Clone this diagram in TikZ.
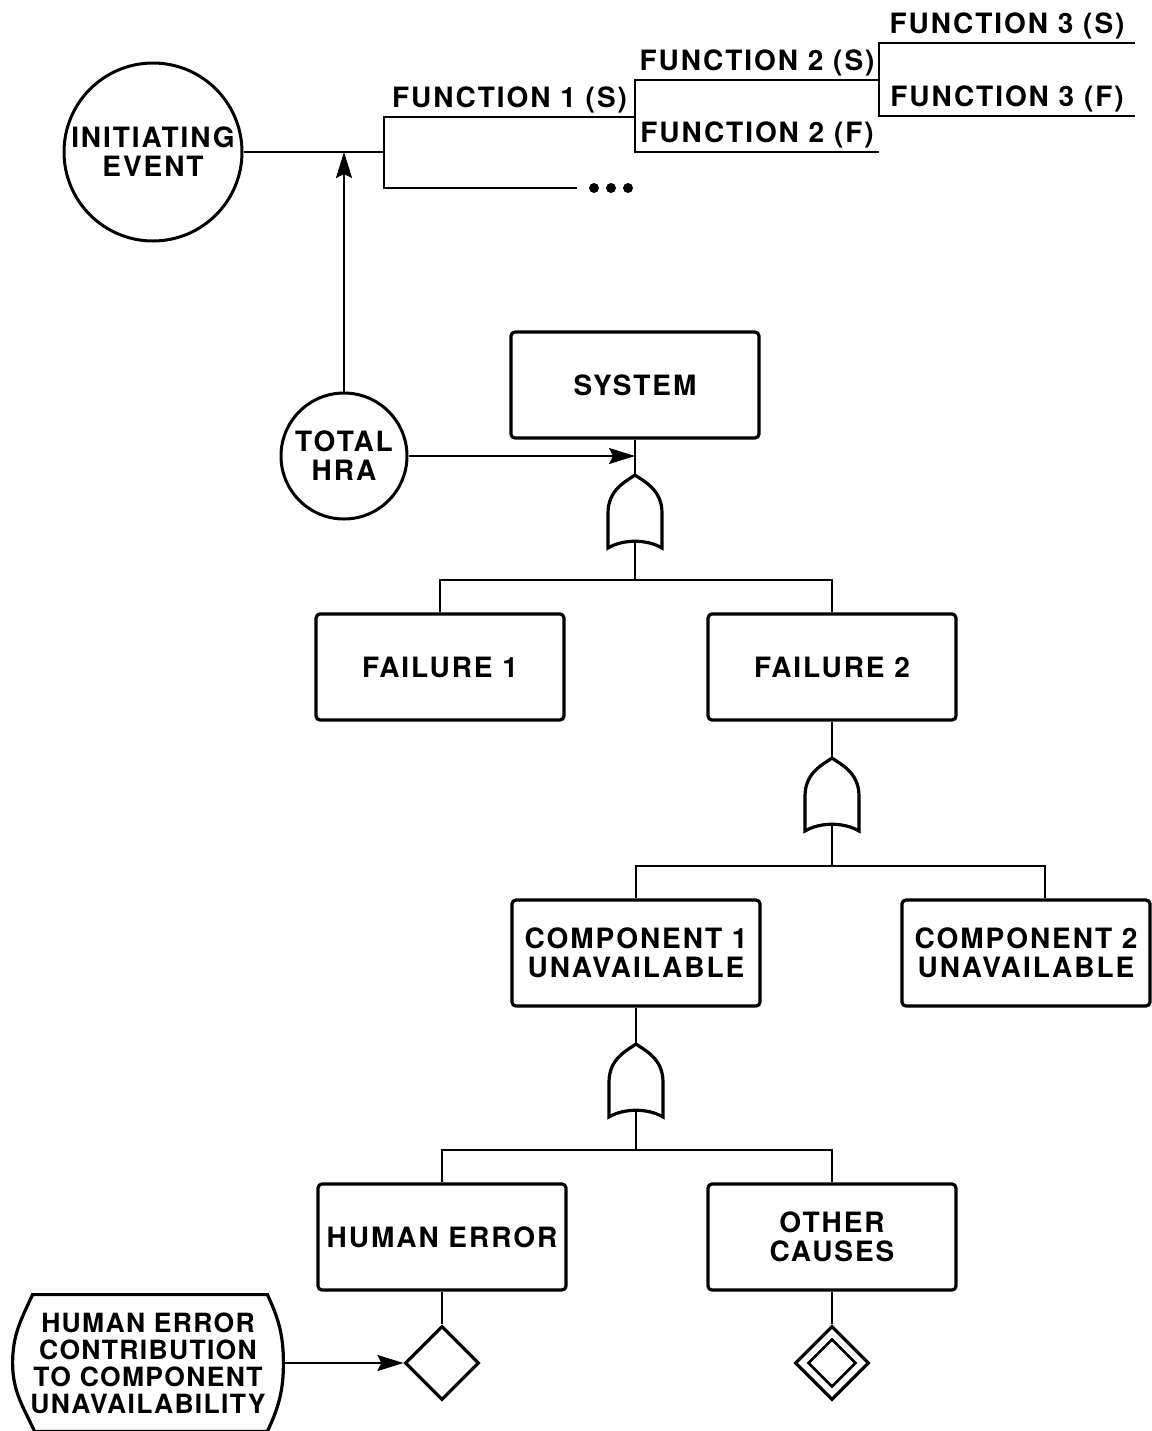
\documentclass[tikz,border=0pt]{standalone}
\usepackage{fontspec}
\setmainfont{TeX Gyre Heros}[LetterSpace=7]
\newfontfamily\tightfam{TeX Gyre Heros}[LetterSpace=5]
\usetikzlibrary{arrows.meta,positioning,calc,shapes.geometric}
\tikzset{
  >={Stealth[length=13pt,width=8pt,inset=2pt]},
  every node/.append style={font=\fontsize{14}{14.5}\selectfont\bfseries},
}
\tikzset{
  event/.style={draw, rectangle, rounded corners=2pt, line width=1.6pt, align=center,
                minimum width=124pt, minimum height=53pt, inner sep=0pt},
  wire/.style={line width=1.2pt},
  arrow/.style={->, line width=1.2pt},
  fnlabel/.style={above, inner sep=1.5pt},
  orgate/.pic={
    \draw[line width=1.6pt] (0,0) .. controls (8,6) and (27,14) .. (27,38) -- (27,73)
      .. controls (12,64) and (-12,64) .. (-27,73) -- (-27,38)
      .. controls (-27,14) and (-8,6) .. (0,0) -- cycle;
    \coordinate (-top) at (0,0);
    \coordinate (-bot) at (0,67);
  }
}

\begin{document}
\begin{tikzpicture}[
  x=0.5pt, y=-0.5pt,
  circ/.style={draw, circle, line width=1.5pt, align=center, inner sep=0pt},
  dmd/.style={draw, diamond, line width=1.6pt, inner sep=0pt}
]
\useasboundingbox (0,0) rectangle (1152,1431);

% --- Event tree ---
\node[circ, minimum size=89pt] (ie) at (153,152) {INITIATING\\EVENT};
\coordinate (j1) at (384,152);
\coordinate (f1s) at (635,117);
\coordinate (f1f) at (577,188);
\coordinate (f2s) at (879,80);
\coordinate (f2f) at (879,152);
\coordinate (f3s) at (1135,43);
\coordinate (f3f) at (1135,116);

\draw[wire] (ie) -- (j1);
\draw[wire] (j1) |- (f1s) node[fnlabel, pos=0.75] {FUNCTION 1 (S)};
\draw[wire] (j1) |- (f1f);
\foreach \x in {594,611,628} \fill (\x,188) circle (5);
\draw[wire] (f1s) |- (f2s) node[fnlabel, pos=0.75] {FUNCTION 2 (S)};
\draw[wire] (f1s) |- (f2f) node[fnlabel, pos=0.75] {FUNCTION 2 (F)};
\draw[wire] (f2s) |- (f3s) node[fnlabel, pos=0.75] {FUNCTION 3 (S)};
\draw[wire] (f2s) |- (f3f) node[fnlabel, pos=0.75] {FUNCTION 3 (F)};

% --- Total HRA feeding both trees ---
\node[circ, minimum size=63pt] (hra) at (344,456) {TOTAL\\HRA};
\draw[arrow] (hra.north) -- (hra.north |- ie);

% --- Fault tree ---
\node[event] (sys) at (635,385) {SYSTEM};
\pic (g1) at (635,475) {orgate};
\draw[wire] (sys.south) -- (g1-top);
\draw[arrow] (hra.east) -- (hra.east -| sys.south);

\node[event] (f1) at (440,667) {FAILURE 1};
\node[event] (f2) at (832,667) {FAILURE 2};
\coordinate (bus1) at (635,580);
\draw[wire] (g1-bot) -- (bus1);
\draw[wire] (bus1) -| (f1.north);
\draw[wire] (bus1) -| (f2.north);

\pic (g2) at (832,758) {orgate};
\draw[wire] (f2.south) -- (g2-top);
\node[event] (c1) at (636,953) {COMPONENT 1\\UNAVAILABLE};
\node[event] (c2) at (1026,953) {COMPONENT 2\\UNAVAILABLE};
\coordinate (bus2) at (832,866);
\draw[wire] (g2-bot) -- (bus2);
\draw[wire] (bus2) -| (c1.north);
\draw[wire] (bus2) -| ($(c2.north)+(19,0)$);

\pic (g3) at (636,1044) {orgate};
\draw[wire] (c1.south) -- (g3-top);
\node[event] (he) at (442,1237) {HUMAN ERROR};
\node[event] (oc) at (832,1237) {OTHER\\CAUSES};
\coordinate (bus3) at (636,1150);
\draw[wire] (g3-bot) -- (bus3);
\draw[wire] (bus3) -| (he.north);
\draw[wire] (bus3) -| (oc.north);

% --- Basic events ---
\node[dmd, minimum size=37pt] (hed) at (442,1363) {};
\node[dmd, minimum size=37pt] (ocd) at (832,1363) {};
\node[dmd, minimum size=24pt, line width=1.3pt] (ocd-in) at (832,1363) {};
\draw[wire] (he.south) -- (hed.north);
\draw[wire] (oc.south) -- (ocd.north);

% --- Human error contribution ---
\node[minimum width=135pt, minimum height=68pt, align=center, inner sep=0pt,
      font=\fontsize{13.25}{13.5}\selectfont\tightfam\bfseries] (hc) at (148,1363)
  {HUMAN ERROR\\CONTRIBUTION\\TO COMPONENT\\UNAVAILABILITY};
\draw[line width=1.6pt, line cap=round]
  (hc.west) to[out=90,in=-115] ($(hc.north west)+(20,0)$)
  -- ($(hc.north east)+(-16,0)$)
  to[out=-65,in=90] (hc.east) to[out=-90,in=65] ($(hc.south east)+(-16,0)$)
  -- ($(hc.south west)+(22,0)$)
  to[out=115,in=-90] (hc.west);
\draw[arrow] (hc.east) -- (hed.west);

\end{tikzpicture}
\end{document}
